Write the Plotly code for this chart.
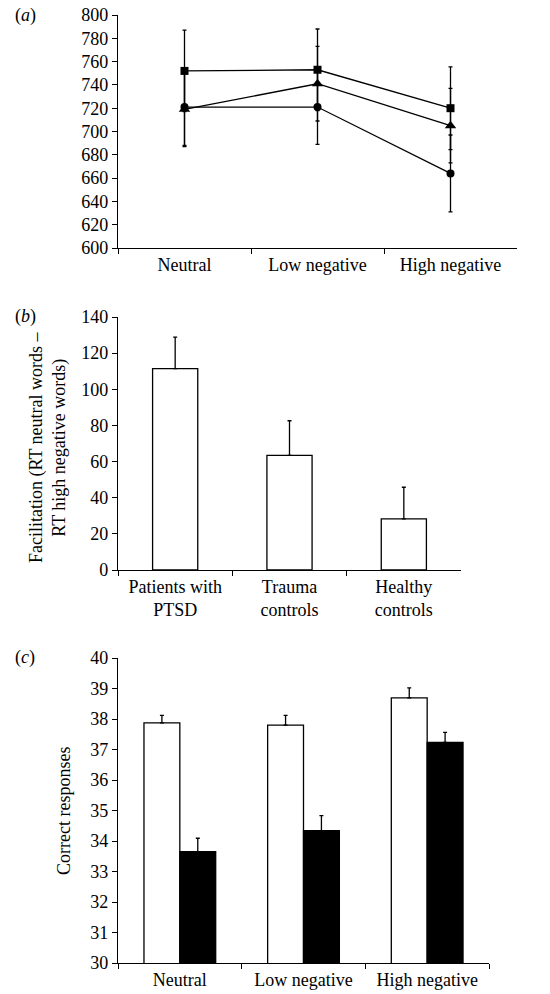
import plotly.graph_objects as go

# ---------------- data ----------------
cats_a = ["Neutral", "Low negative", "High negative"]
sq_vals = [752, 753, 720]
sq_err = [35, 35, 35.5]
tri_vals = [719, 741, 705]
tri_err = [32, 32, 32]
cir_vals = [721, 721, 664]
cir_err = [33, 32, 33]

cats_b = ["Patients with<br>PTSD", "Trauma<br>controls", "Healthy<br>controls"]
fac_vals = [111.4, 63.4, 28.3]
fac_err = [17.5, 19.2, 17.5]

cats_c = ["Neutral", "Low negative", "High negative"]
white_vals = [37.87, 37.80, 38.69]
white_err = [0.25, 0.32, 0.33]
black_vals = [33.65, 34.34, 37.23]
black_err = [0.44, 0.49, 0.33]

# ---------------- layout helpers ----------------
W, H = 550, 994
FONT = "Liberation Serif"
FS = 18

def px(x):
    return x / W

def py(y):
    return 1 - y / H

def xd(a, b):
    return [px(a), px(b)]

def yd(top, bottom):
    return [py(bottom), py(top)]

fig = go.Figure()

# Panel (a)
marker_line = dict(color="black", width=0)
for vals, err, sym, size in [
    (sq_vals, sq_err, "square", 8),
    (tri_vals, tri_err, "triangle-up", 10),
    (cir_vals, cir_err, "circle", 8),
]:
    fig.add_trace(go.Scatter(
        x=cats_a, y=vals, mode="lines+markers",
        line=dict(color="black", width=1.3),
        marker=dict(symbol=sym, size=size, color="black", line=marker_line),
        error_y=dict(type="data", array=err, visible=True, color="black",
                     thickness=1.3, width=2),
        xaxis="x", yaxis="y", showlegend=False,
    ))

# Panel (b)
fig.add_trace(go.Bar(
    x=cats_b, y=fac_vals, width=0.395,
    marker=dict(color="white", line=dict(color="black", width=1.3)),
    error_y=dict(type="data", symmetric=False, array=fac_err,
                 arrayminus=[0, 0, 0], color="black", thickness=1.3, width=2),
    xaxis="x2", yaxis="y2", showlegend=False,
))

# Panel (c)
fig.add_trace(go.Bar(
    x=cats_c, y=white_vals, width=0.29, offset=-0.29,
    marker=dict(color="white", line=dict(color="black", width=1.3)),
    error_y=dict(type="data", symmetric=False, array=white_err,
                 arrayminus=[0, 0, 0], color="black", thickness=1.3, width=2),
    xaxis="x3", yaxis="y3", showlegend=False,
))
fig.add_trace(go.Bar(
    x=cats_c, y=black_vals, width=0.29, offset=0.0,
    marker=dict(color="black", line=dict(color="black", width=1.3)),
    error_y=dict(type="data", symmetric=False, array=black_err,
                 arrayminus=[0, 0, 0], color="black", thickness=1.3, width=2),
    xaxis="x3", yaxis="y3", showlegend=False,
))

axis_common = dict(showline=True, linecolor="black", linewidth=1.3,
                   ticks="outside", tickcolor="black", tickwidth=1.3, ticklen=5,
                   showgrid=False, zeroline=False, automargin=False,
                   tickfont=dict(family=FONT, size=FS, color="black"))

fig.update_layout(
    width=W, height=H,
    margin=dict(l=0, r=0, t=0, b=0, pad=0, autoexpand=False),
    paper_bgcolor="white", plot_bgcolor="white",
    barmode="overlay",
    font=dict(family=FONT, size=FS, color="black"),
    xaxis=dict(domain=xd(118, 517), anchor="y", type="category",
               range=[-0.5, 2.5], tickson="boundaries", **axis_common),
    yaxis=dict(domain=yd(15, 248), anchor="x", range=[600, 800], dtick=20,
               **axis_common),
    xaxis2=dict(domain=xd(118, 461), anchor="y2", type="category",
                range=[-0.5, 2.5], tickson="boundaries", **axis_common),
    yaxis2=dict(domain=yd(317, 570), anchor="x2", range=[0, 140], dtick=20,
                **axis_common),
    xaxis3=dict(domain=xd(118, 489), anchor="y3", type="category",
                range=[-0.5, 2.5], tickson="boundaries", **axis_common),
    yaxis3=dict(domain=yd(658, 963), anchor="x3", range=[30, 40], dtick=1,
                **axis_common),
)

ann_font = dict(family=FONT, size=FS, color="black")
fig.add_annotation(text="(<i>a</i>)", x=px(13), y=py(15), xref="paper", yref="paper",
                   xanchor="left", yanchor="middle", showarrow=False, font=ann_font)
fig.add_annotation(text="(<i>b</i>)", x=px(13), y=py(317), xref="paper", yref="paper",
                   xanchor="left", yanchor="middle", showarrow=False, font=ann_font)
fig.add_annotation(text="(<i>c</i>)", x=px(13), y=py(657), xref="paper", yref="paper",
                   xanchor="left", yanchor="middle", showarrow=False, font=ann_font)
fig.add_annotation(text="Facilitation (RT neutral words –<br>RT high negative words)",
                   x=px(48), y=py(447), xref="paper", yref="paper",
                   xanchor="center", yanchor="middle", textangle=-90,
                   showarrow=False, font=ann_font)
fig.add_annotation(text="Correct responses",
                   x=px(64), y=py(811), xref="paper", yref="paper",
                   xanchor="center", yanchor="middle", textangle=-90,
                   showarrow=False, font=ann_font)

# remove the default 8px page margin so the figure fills the window exactly
fig.write_html("out.html", config={"displayModeBar": False},
               post_script="document.body.style.margin='0px';")
